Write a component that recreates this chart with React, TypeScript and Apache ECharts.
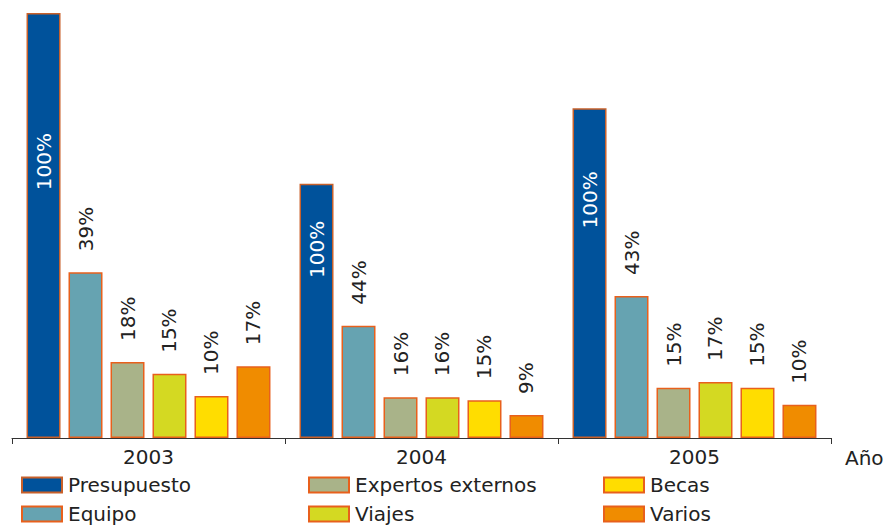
import React, { useEffect, useRef } from "react";
import * as echarts from "echarts";

const years = ["2003", "2004", "2005"];
const seriesNames = ["Presupuesto", "Equipo", "Expertos externos", "Viajes", "Becas", "Varios"];
const presupuesto = [100, 59.8, 77.6];
const equipo = [39, 26.4, 33.4];
const expertos = [17.9, 9.6, 11.8];
const viajes = [15.1, 9.6, 13.2];
const becas = [9.9, 8.9, 11.8];
const varios = [16.9, 5.4, 7.8];
const presupuestoLabels = ["100%", "100%", "100%"];
const equipoLabels = ["39%", "44%", "43%"];
const expertosLabels = ["18%", "16%", "15%"];
const viajesLabels = ["15%", "16%", "17%"];
const becasLabels = ["10%", "15%", "15%"];
const variosLabels = ["17%", "9%", "10%"];
const axisName = "Año";

const colors = ["#00529b", "#66a3b1", "#a9b389", "#d4d922", "#ffdd00", "#f08c00"];
const borderColors = ["#c8602a", "#e8601c", "#e8601c", "#e8601c", "#e8601c", "#e8601c"];
const insideDistances = [120, 37, 63];
const FONT = "DejaVu Sans";

export default function App() {
  const ref = useRef<HTMLDivElement>(null);
  useEffect(() => {
    if (!ref.current) return;
    const chart = echarts.init(ref.current, undefined, { renderer: "svg" });
    const values = [presupuesto, equipo, expertos, viajes, becas, varios];
    const labels = [presupuestoLabels, equipoLabels, expertosLabels, viajesLabels, becasLabels, variosLabels];
    const series = values.map((vals, si) => ({
      name: seriesNames[si],
      type: "bar",
      barWidth: 34,
      barGap: "23.5%",
      itemStyle: { color: colors[si], borderColor: borderColors[si], borderWidth: 1.5 },
      data: vals.map((v, i) => ({
        value: v,
        label:
          si === 0
            ? {
                show: true,
                position: "insideTop",
                rotate: 90,
                align: "right",
                verticalAlign: "middle",
                distance: insideDistances[i],
                color: "#ffffff",
                fontFamily: FONT,
                fontSize: 20,
                formatter: () => labels[si][i],
              }
            : {
                show: true,
                position: "top",
                rotate: 90,
                align: "left",
                verticalAlign: "middle",
                distance: 21,
                color: "#222222",
                fontFamily: FONT,
                fontSize: 20,
                formatter: () => labels[si][i],
              },
      })),
    }));
    // legend layout: [name, left, top]
    const legendSlots: [string, number, number][] = [
      ["Presupuesto", 21, 475],
      ["Equipo", 21, 504],
      ["Expertos externos", 308, 475],
      ["Viajes", 308, 504],
      ["Becas", 603, 475],
      ["Varios", 603, 504],
    ];
    chart.setOption({
      animation: false,
      grid: { left: 12, right: 57, top: 13, bottom: 87 },
      xAxis: {
        type: "category",
        data: years,
        name: axisName,
        nameLocation: "end",
        nameGap: 14,
        nameTextStyle: {
          fontFamily: FONT,
          fontSize: 20,
          color: "#222222",
          verticalAlign: "top",
          padding: [10, 0, 0, 0],
        },
        axisLine: { lineStyle: { color: "#333333", width: 1 } },
        axisTick: { show: true, length: 6, inside: false, lineStyle: { color: "#333333" } },
        axisLabel: { fontFamily: FONT, fontSize: 20, color: "#222222", margin: 9 },
      },
      yAxis: {
        type: "value",
        min: 0,
        max: 100,
        show: false,
        splitLine: { show: false },
      },
      legend: legendSlots.map(([name, left, top]) => ({
        data: [name],
        left,
        top,
        itemWidth: 40,
        itemHeight: 15,
        icon: "rect",
        padding: 0,
        textStyle: { fontFamily: FONT, fontSize: 20, color: "#222222", padding: [0, 0, 0, 1] },
        selectedMode: false,
      })),
      series,
    });
    return () => chart.dispose();
  }, []);
  return <div ref={ref} style={{ width: 888, height: 525, position: "absolute", left: 0, top: 0 }} />;
}
